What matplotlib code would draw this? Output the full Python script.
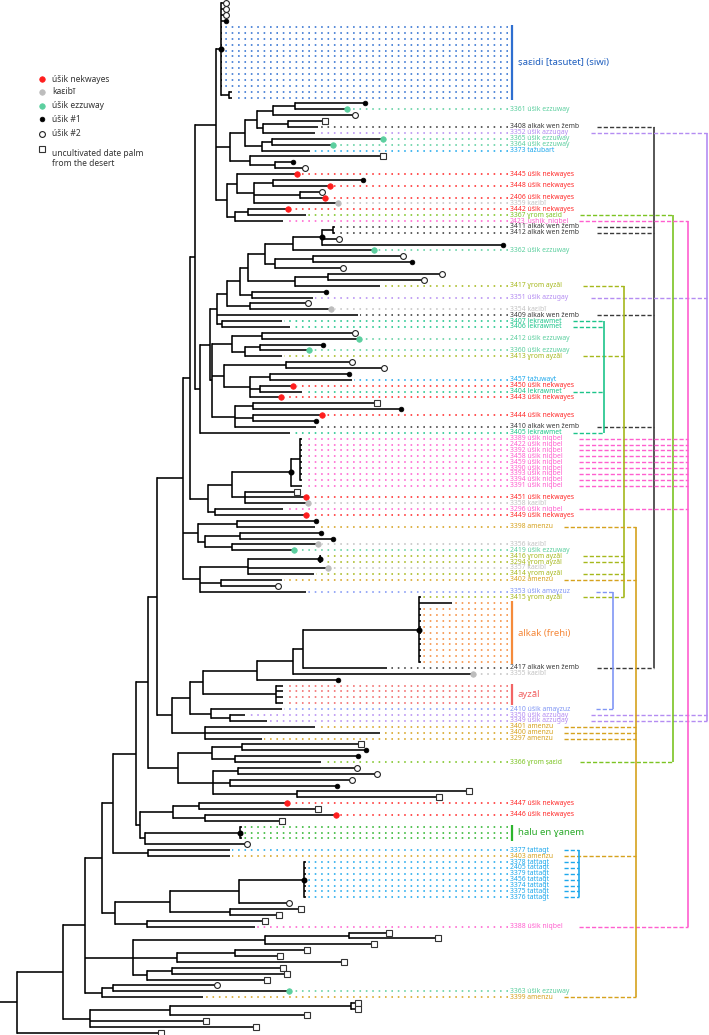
import matplotlib
matplotlib.use("Agg")
import matplotlib.pyplot as plt

plt.rcParams['font.family'] = ['Noto Sans', 'DejaVu Sans']

# ---------------- data ----------------
# tip depth of every leaf (row 0 = top)
tip_depth = [
    226, 226, 226, 226, 222, 222, 222, 222, 222, 222, 222, 222, 222, 222, 222, 232, 232,
    365, 347, 355, 325, 318, 315, 383, 333, 310, 383, 293, 305,
    297, 363, 330, 322, 325, 338, 288, 306, 283, 335, 335, 339, 503,
    374, 403, 412, 343, 442, 424, 380, 326, 313, 308, 331, 358,
    282, 290, 355, 359, 323, 309, 282, 352, 384, 349, 352, 293, 302, 281, 377, 401, 322, 316, 316, 290,
    302, 302, 302, 302, 302, 302, 302, 302, 302,
    297, 306, 308, 283, 306, 316, 315, 321, 333, 318, 294, 321, 321, 328, 314, 282, 278, 306,
    421, 452, 421, 421, 421, 421, 421, 421, 421, 421, 421, 421, 387, 473, 338,
    283, 283, 283, 283, 282, 245, 267, 315, 380, 262,
    361, 366, 358, 321, 357, 377, 352, 337, 469, 439, 287, 318, 336, 282, 242, 242, 242, 247,
    230, 230, 306, 306, 306, 306, 306, 306, 306, 289, 301, 279, 265, 255,
    389, 438, 374, 307, 280, 344, 283, 287, 267, 217, 289, 203, 358, 358, 307, 206, 256, 161,
]
# r = nekwayes, g = kaebi, m = ezzuway, b = usik #1, o = usik #2, s = desert palm
tip_marker = ("ooob" + "." * 13 + "bmos..mm.sbo" + "rbrorgr....ob" + "mobooo.b.og."
              + "..ombm.oob.r.rsbrb.." + "." * 9 + "srg.rb.bbgm..g..o."
              + "." * 13 + "gb" + "." * 10 + "sbb.ooobssrsrs...o"
              + "." * 9 + "osss." + "s" * 9 + "om." + "s" * 6)

label_rows = [18, 21, 22, 23, 24, 25, 29, 31, 33, 34, 35, 36, 37, 38, 39, 42, 48, 50, 52, 53, 54, 55,
              57, 59, 60, 64, 65, 66, 67, 70, 72, 73, 74, 75, 76, 77, 78, 79, 80, 81, 82, 84, 85, 86,
              87, 89, 92, 93, 94, 95, 96, 97, 98, 100, 101, 113, 114, 120, 121, 122, 123, 124, 125,
              129, 136, 138, 144, 145, 146, 147, 148, 149, 150, 151, 152, 157, 168, 169]
label_ids = ["3361", "3408", "3352", "3365", "3364", "3373", "3445", "3448", "2406", "3359", "3442",
             "3367", "2423", "3411", "3412", "3362", "3417", "3351", "3354", "3409", "3407", "3406",
             "2412", "3360", "3413", "3457", "3450", "3404", "3443", "3444", "3410", "3405", "3389",
             "2422", "3392", "3458", "3459", "3390", "3393", "3394", "3391", "3451", "3358", "3296",
             "3449", "3398", "3356", "2419", "3416", "3294", "3357", "3414", "3402", "3353", "3415",
             "2417", "3355", "2410", "3350", "3349", "3401", "3400", "3297", "3366", "3447", "3446",
             "3377", "3403", "3378", "2405", "3379", "3456", "3374", "3375", "3376", "3388", "3363",
             "3399"]
label_groups = ["ezz", "wen", "azz", "ezz", "ezz", "taz1", "nek", "nek", "nek", "kai", "nek",
                "sae", "niq", "wen", "wen", "ezz", "gay", "azz", "kai", "wen", "lek", "lek",
                "ezz", "ezz", "gay", "taz2", "nek", "lek", "nek", "nek", "wen", "lek", "niq",
                "niq", "niq", "niq", "niq", "niq", "niq", "niq", "niq", "nek", "kai", "niq",
                "nek", "ame", "kai", "ezz", "gay", "gay", "kai", "gay", "ame", "amz", "gay",
                "wen", "kai", "amz", "azz", "azz", "ame", "ame", "ame", "sae", "nek", "nek",
                "tat", "ame", "tat", "tat", "tat", "tat", "tat", "tat", "tat", "niq", "ezz",
                "ame"]
group_names = {"nek": "úšik nekwayes", "kai": "kaɛibī", "ezz": "úšik ezzuway",
               "wen": "alkak wen žemb", "azz": "úšik azzugay", "taz1": "tažubart",
               "taz2": "tažuwayt", "sae": "ɣrom ṣaɛid", "niq": "úšik niqbel",
               "gay": "ɣrom ayzāl", "lek": "lekrawmet", "ame": "amenzu",
               "amz": "úšik amaɣzuz", "tat": "tattagt"}
special_labels = {"2423": "2423_ushik_niqbel"}

block_names = ["ṣaɛidi [tasutet] (siwi)", "alkak (freḥi)", "ayzāl", "ḥalu en ɣanem"]
block_keys = ["sai", "alk", "ayz", "hal"]
block_first = [4, 102, 116, 140]
block_last = [16, 112, 119, 142]

legend_keys = ["r", "g", "m", "b", "o", "s"]
legend_texts = ["úšik nekwayes", "kaɛibī", "úšik ezzuway", "úšik #1", "úšik #2",
                "uncultivated date palm\nfrom the desert"]


def N(d, *kids, dot=False):
    return {"d": d, "kids": kids, "dot": dot}


T1 = N(221, 0, 1, 2, 3, 4, 5, 6, 7, 8, 9, 10, 11, 12, 13, 14, N(229, 15, 16), dot=True)
T2 = N(230, N(245, N(257, N(273, N(295, 17, 18), 19), N(263, N(288, 20, 21), 22)),
              N(262, N(272, 23, 24), 25)), N(250, 26, N(275, 27, 28)))
T3 = N(227, N(237, 29, N(254, N(273, 30, 31), N(300, 32, 33), 34)), N(235, N(248, 35, 36), 37))
M1 = N(217, N(227, N(240, N(248, N(265, N(293, N(322, N(333, 38, 39), 40, 41, dot=True), 42),
                                      N(275, N(313, 43, 44), 45)),
                              N(295, N(328, 46, 47), 48)),
                       N(252, 49, 50)),
               N(250, 51, 52)), 53, N(222, 54, 55))
M2 = N(232, N(262, 56, 57), N(245, N(260, 58, 59), 60))
M3 = N(224, N(286, 61, 62), N(250, N(270, 63, 64), N(260, 65, 66), 67))
M4 = N(235, N(253, 68, 69), N(253, 70, 71), 72)
M = N(200, N(210, M1, N(212, M2, M3, M4)), 73)
P = N(208, N(232, N(291, N(300, 74, 75, 76, 77, 78, 79, 80, 81), 82, dot=True), N(245, 83, 84, 85)),
      N(215, 86, 87))
Q1 = N(198, N(237, 88, 89), N(205, N(240, 90, 91), N(232, 92, 93)))
Q2 = N(200, N(248, N(320, 94, 95, dot=True), 96, 97), N(221, 98, 99), 100)
ALK = N(419, 101, 102, 103, 104, 105, 106, 107, 108, 109, 110, 111, 112, dot=True)
R = N(172, N(190, N(203, N(257, N(293, N(303, ALK, 113), 114), 115), N(276, 116, 117, 118, 119)),
             N(211, 120, N(230, 121, 122))), N(205, 123, 124, 125))
S1 = N(178, N(212, N(242, 126, 127), N(235, 128, 129)),
       N(213, N(238, 130, 131), N(230, 132, 133), N(297, 134, 135)))
S2 = N(140, N(173, N(199, 136, 137), N(205, 138, 139)), N(145, N(240, 140, 141, 142, dot=True), 143))
T6 = N(115, N(170, N(239, N(304, 146, 147, 148, 149, 150, 151, 152, dot=True), 153), N(230, 154, 155)),
       N(147, 156, 157))
U1 = N(133, N(265, N(349, 158, 159), 160), N(177, N(235, 161, 162), 163),
       N(147, N(172, 164, 165), 166))
U2 = N(102, N(113, 167, 168), 169)
V = N(90, N(170, N(351, 170, 171), 172), 173, 174)
TREE = N(17, N(63, N(85, N(102, N(113, N(136, N(148, N(157, N(183, N(190, N(195, N(216, T1, T2, T3), M), P),
                                                                 Q1, Q2), R), S1), S2),
                                        N(148, 144, 145)), T6), U1, U2), V), 175)

# ---------------- style ----------------
colors = {"nek": "#ff2a2a", "kai": "#c2c2c2", "ezz": "#5ccf9f", "wen": "#3a3a3a",
          "azz": "#b48cf2", "taz1": "#1ea8ec", "taz2": "#1ea8ec", "sae": "#7cc423",
          "niq": "#ff5fcf", "gay": "#a6b81c", "lek": "#1cc48a", "ame": "#d6a21e",
          "amz": "#8096f5", "tat": "#1ea8ec", "sai": "#2f6fd0", "alk": "#f58b3b",
          "ayz": "#f26464", "hal": "#2db52d"}
block_text_colors = {"sai": "#1f5fbf", "alk": "#f5883a", "ayz": "#f26464", "hal": "#2aaa2a"}
connectors = {"wen": (597, 654), "azz": (591, 707), "sae": (580, 673), "niq": (579, 688),
              "gay": (583, 624), "lek": (573, 604), "ame": (564, 636), "amz": (596, 613),
              "tat": (564, 579)}
DOT_END = 508
LABEL_X = 510

fig = plt.figure(figsize=(7.09, 10.35), dpi=100)
ax = fig.add_axes([0, 0, 1, 1])
ax.set_xlim(0, 709)
ax.set_ylim(175.42, -0.595)
ax.axis("off")

hsegs, vsegs, ndots = [], [], []


def layout(node):
    if isinstance(node, int):
        return tip_depth[node], float(node)
    ys = []
    for ch in node["kids"]:
        cx, cy = layout(ch)
        hsegs.append((node["d"], cx, cy))
        ys.append(cy)
    vsegs.append((node["d"], min(ys), max(ys)))
    y = (min(ys) + max(ys)) / 2
    if node["dot"]:
        ndots.append((node["d"], y))
    return node["d"], y


rx, ry = layout(TREE)
hsegs.append((0, rx, ry))

row_group = {}
for r, i, g in zip(label_rows, label_ids, label_groups):
    row_group[r] = g
for k, a, b in zip(block_keys, block_first, block_last):
    for r in range(a, b + 1):
        row_group[r] = k

# dotted lines to labels
for r, g in row_group.items():
    start = tip_depth[r] + (4 if tip_marker[r] != "." else 2)
    ax.plot([DOT_END, start], [r, r], color=colors[g], lw=1.15,
            linestyle=(0, (1, 3.0)), solid_capstyle="butt", zorder=1)

# tree branches
for x0, x1, y in hsegs:
    ax.plot([x0, x1], [y, y], color="black", lw=1.15, solid_capstyle="butt", zorder=2)
for x, y0, y1 in vsegs:
    ax.plot([x, x], [y0, y1], color="black", lw=1.15, solid_capstyle="projecting", zorder=2)
for x, y in ndots:
    ax.plot(x, y, "o", color="black", ms=3.3, zorder=3)

marker_style = {
    "r": dict(marker="o", ms=4.0, mfc="#ff1e1e", mec="#ff1e1e", mew=0.5),
    "g": dict(marker="o", ms=4.0, mfc="#bdbdbd", mec="#bdbdbd", mew=0.5),
    "m": dict(marker="o", ms=4.0, mfc="#5ccf9f", mec="#5ccf9f", mew=0.5),
    "b": dict(marker="o", ms=3.4, mfc="black", mec="black", mew=0.5),
    "o": dict(marker="o", ms=4.2, mfc="white", mec="#222222", mew=0.8),
    "s": dict(marker="s", ms=4.0, mfc="white", mec="#333333", mew=0.8),
}
for r, m in enumerate(tip_marker):
    if m != ".":
        ax.plot(tip_depth[r], r, linestyle="none", zorder=4, **marker_style[m])

# labels
for r, i, g in zip(label_rows, label_ids, label_groups):
    txt = special_labels.get(i, f"{i} {group_names[g]}")
    ax.text(LABEL_X, r, txt, fontsize=4.9, color=colors[g], va="center", ha="left")

# blocks
for k, a, b, name in zip(block_keys, block_first, block_last, block_names):
    ax.plot([512, 512], [a - 0.35, b + 0.35], color=colors[k], lw=1.6, solid_capstyle="butt")
    ax.text(518, (a + b) / 2, name, fontsize=6.9, color=block_text_colors[k], va="center", ha="left")

# connectors on the right
for g, (ds, vx) in connectors.items():
    rows = [r for r, gg in zip(label_rows, label_groups) if gg == g]
    for r in rows:
        ax.plot([ds, vx], [r, r], color=colors[g], lw=1.0, dashes=(3, 1.5))
    ax.plot([vx, vx], [min(rows), max(rows)], color=colors[g], lw=1.2, solid_capstyle="butt")

# legend
leg_y = [79, 92, 105.5, 119, 134, 149]
for k, t, yp in zip(legend_keys, legend_texts, leg_y):
    yy = 1 - yp / 1035
    ax.plot(42 / 709, yy, transform=ax.transAxes, linestyle="none", **marker_style[k])
    ax.text(52 / 709, yy, t, transform=ax.transAxes, fontsize=6.1, color="#333333",
            va="top" if "\n" in t else "center", ha="left", linespacing=1.1)

fig.savefig("out.png", dpi=100)
